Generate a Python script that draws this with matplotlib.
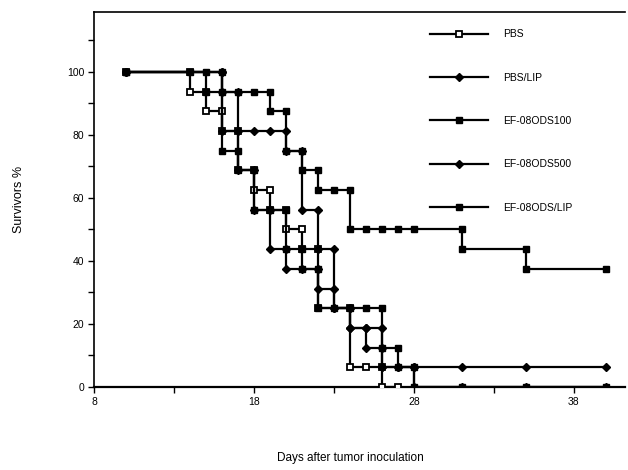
import matplotlib
matplotlib.use('Agg')
import matplotlib.pyplot as plt

plt.rcParams['font.family'] = ['Liberation Sans', 'DejaVu Sans']

pbs_days = [10, 14, 14, 15, 15, 16, 16, 17, 17, 18, 18, 19, 19, 20, 20, 21, 21, 22, 22, 24, 24, 25, 26, 26, 27]
pbs_surv = [100, 100, 93.75, 93.75, 87.5, 87.5, 81.25, 81.25, 68.75, 68.75, 62.5, 62.5, 56.25, 56.25,
            50, 50, 43.75, 43.75, 25, 25, 6.25, 6.25, 6.25, 0, 0]

pbslip_days = [10, 16, 16, 17, 17, 18, 18, 19, 19, 20, 20, 21, 22, 22, 23, 23, 24, 24, 25, 26, 26, 27, 28, 28, 31, 35, 40]
pbslip_surv = [100, 100, 93.75, 93.75, 68.75, 68.75, 56.25, 56.25, 43.75, 43.75, 37.5, 37.5, 37.5, 31.25,
               31.25, 25, 25, 18.75, 18.75, 18.75, 6.25, 6.25, 6.25, 0, 0, 0, 0]

ef100_days = [10, 16, 16, 17, 17, 18, 18, 19, 20, 20, 21, 21, 22, 22, 23, 24, 25, 26, 26, 27, 27, 28, 28, 31, 35, 40]
ef100_surv = [100, 100, 75, 75, 68.75, 68.75, 56.25, 56.25, 56.25, 43.75, 43.75, 37.5, 37.5, 25, 25, 25, 25,
              25, 12.5, 12.5, 6.25, 6.25, 0, 0, 0, 0]

ef500_days = [10, 16, 16, 17, 18, 19, 20, 20, 21, 21, 22, 22, 23, 23, 24, 24, 25, 25, 26, 26, 27, 28, 31, 35, 40]
ef500_surv = [100, 100, 81.25, 81.25, 81.25, 81.25, 81.25, 75, 75, 56.25, 56.25, 43.75, 43.75, 25, 25, 18.75,
              18.75, 12.5, 12.5, 6.25, 6.25, 6.25, 6.25, 6.25, 6.25]

eflip_days = [10, 14, 15, 15, 16, 17, 18, 19, 19, 20, 20, 21, 21, 22, 22, 23, 24, 24, 25, 26, 27, 28, 31, 31, 35, 35, 40]
eflip_surv = [100, 100, 100, 93.75, 93.75, 93.75, 93.75, 93.75, 87.5, 87.5, 75, 75, 68.75, 68.75, 62.5, 62.5, 62.5,
              50, 50, 50, 50, 50, 50, 43.75, 43.75, 37.5, 37.5]

fig = plt.figure(figsize=(6.28, 4.70), dpi=100)
ax = fig.add_axes([94/628, 1 - 387/470, 531/628, 375/470])

kw = dict(color='black', lw=1.6, mec='black', zorder=3)
l_pbs, = ax.plot(pbs_days, pbs_surv, marker='s', ms=4.5, mfc='white', mew=1.3, label='PBS', **kw)
l_500, = ax.plot(ef500_days, ef500_surv, marker='D', ms=4, mfc='black', label='EF-08ODS500', **kw)
l_plip, = ax.plot(pbslip_days, pbslip_surv, marker='D', ms=4, mfc='black', label='PBS/LIP', **kw)
l_100, = ax.plot(ef100_days, ef100_surv, marker='s', ms=4.8, mfc='black', label='EF-08ODS100', **kw)
l_lip, = ax.plot(eflip_days, eflip_surv, marker='s', ms=4.8, mfc='black', label='EF-08ODS/LIP', **kw)

ax.set_xlim(8, 41.2)
ax.set_ylim(0, 119)
ax.set_xticks(range(8, 41, 5))
ax.set_xticklabels(['8', '', '18', '', '28', '', '38'])
ax.set_yticks(range(0, 111, 10))
ax.set_yticklabels([str(v) if v % 20 == 0 else '' for v in range(0, 111, 10)])
ax.tick_params(direction='out', length=4, width=1, labelsize=7.5, pad=3)
ax.spines['right'].set_visible(False)
for s in ['left', 'bottom', 'top']:
    ax.spines[s].set_linewidth(1.2)
ax.spines['bottom'].set_linewidth(1.6)

ax.set_ylabel('Survivors %', fontsize=9, labelpad=30)
fig.text(350/628, 1 - 458/470, 'Days after tumor inoculation', fontsize=8.5, ha='center', va='center')

leg = ax.legend(handles=[l_pbs, l_plip, l_100, l_500, l_lip], loc='upper left',
                bbox_to_anchor=(0.625, 0.965), frameon=False, fontsize=7.5,
                handlelength=5.6, handletextpad=1.4, labelspacing=3.2, borderaxespad=0)

fig.savefig('out.png', dpi=100)
